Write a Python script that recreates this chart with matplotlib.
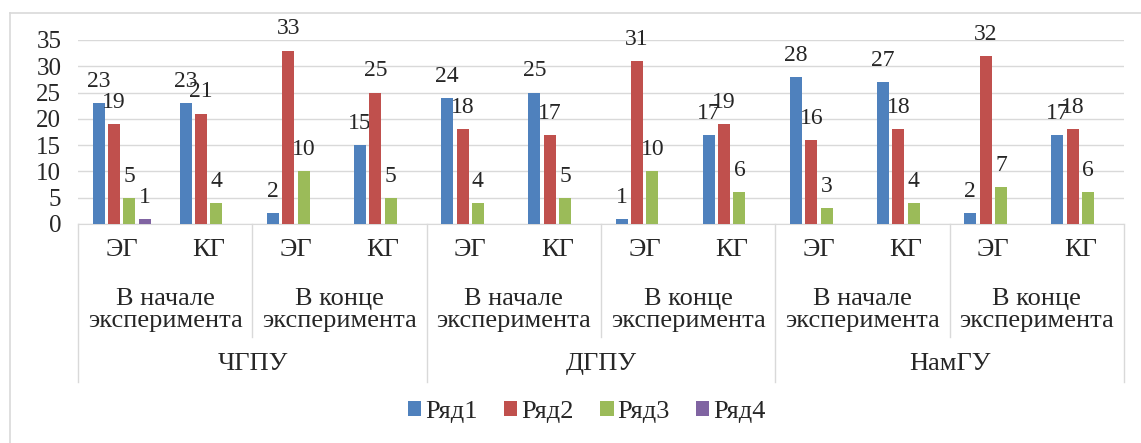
import matplotlib
matplotlib.use("Agg")
import matplotlib.pyplot as plt
import numpy as np
from matplotlib.lines import Line2D
from matplotlib.patches import Patch
from matplotlib.transforms import blended_transform_factory

# data
groups = ["ЭГ", "КГ"] * 6
stages = ["В начале\nэксперимента", "В конце\nэксперимента",
          "В начале\nэксперимента", "В конце\nэксперимента",
          "В начале\nэксперимента", "В конце\nэксперимента"]
universities = ["ЧГПУ", "ДГПУ", "НамГУ"]
series_names = ["Ряд1", "Ряд2", "Ряд3", "Ряд4"]
row1 = [23, 23, 2, 15, 24, 25, 1, 17, 28, 27, 2, 17]
row2 = [19, 21, 33, 25, 18, 17, 31, 19, 16, 18, 32, 18]
row3 = [5, 4, 10, 5, 4, 5, 10, 6, 3, 4, 7, 6]
row4 = [1, np.nan, np.nan, np.nan, np.nan, np.nan,
        np.nan, np.nan, np.nan, np.nan, np.nan, np.nan]
yticks = [0, 5, 10, 15, 20, 25, 30, 35]

colors = ["#4F81BD", "#C0504D", "#9BBB59", "#8064A2"]
FONT = "Liberation Serif"
plt.rcParams["font.family"] = FONT
TXT = "#262626"

W, H = 1141, 443
fig = plt.figure(figsize=(W / 100, H / 100), dpi=100)
ax = fig.add_axes([78 / W, 1 - 224 / H, (1124 - 78) / W, (224 - 40) / H])

x = np.arange(len(groups))
pitch = 0.176
width = 0.138
for i, vals in enumerate([row1, row2, row3, row4]):
    pos = x + (i - 1.5) * pitch
    ax.bar(pos, vals, width, color=colors[i], label=series_names[i], zorder=3)
    for p, v in zip(pos, vals):
        if np.isnan(v):
            continue
        ax.annotate(f"{v:g}", (p, v), xytext=(0, 8), textcoords="offset points",
                    ha="center", va="bottom", fontsize=17, color=TXT,
                    family=FONT, annotation_clip=False)

ax.set_xlim(-0.5, len(groups) - 0.5)
ax.set_ylim(0, 35)
ax.set_yticks(yticks)
ax.set_yticklabels([str(t) for t in yticks], family=FONT, fontsize=18, color=TXT)
ax.tick_params(axis="y", length=0, pad=12)
ax.set_xticks([])
ax.grid(axis="y", color="#D9D9D9", linewidth=1, zorder=0)
for s in ["top", "right", "left"]:
    ax.spines[s].set_visible(False)
ax.spines["bottom"].set_color("#D9D9D9")

# multi-level category axis
tr = blended_transform_factory(ax.transData, fig.transFigure)
def fy(p):
    return 1 - p / H

for xi, g in enumerate(groups):
    ax.text(xi, fy(250), g, transform=tr, ha="center", va="center",
            fontsize=19, color=TXT, family=FONT)
for k, s in enumerate(stages):
    ax.text(2 * k + 0.5, fy(310), s, transform=tr, ha="center", va="center",
            fontsize=19, color=TXT, family=FONT, linespacing=1.05)
for k, u in enumerate(universities):
    ax.text(4 * k + 1.5, fy(364), u, transform=tr, ha="center", va="center",
            fontsize=19, color=TXT, family=FONT)

for b in [-0.5, 3.5, 7.5, 11.5]:
    ax.add_line(Line2D([b, b], [fy(224), fy(382)], transform=tr,
                       color="#D9D9D9", linewidth=1, clip_on=False))
for b in [1.5, 5.5, 9.5]:
    ax.add_line(Line2D([b, b], [fy(224), fy(337)], transform=tr,
                       color="#D9D9D9", linewidth=1, clip_on=False))

# outer chart border
fig.add_artist(Line2D([10 / W, 1.0], [fy(13), fy(13)], color="#D9D9D9", linewidth=1.2))
fig.add_artist(Line2D([10 / W, 10 / W], [0, fy(13)], color="#D9D9D9", linewidth=1.2))

handles = [Patch(facecolor=c) for c in colors]
fig.legend(handles, series_names, loc="center", bbox_to_anchor=(587 / W, fy(412)),
           ncol=4, frameon=False, prop={"family": FONT, "size": 19},
           handlelength=0.5, handleheight=0.5, handletextpad=0.15,
           columnspacing=1.0, labelcolor=TXT)

fig.savefig("out.png", dpi=100)
